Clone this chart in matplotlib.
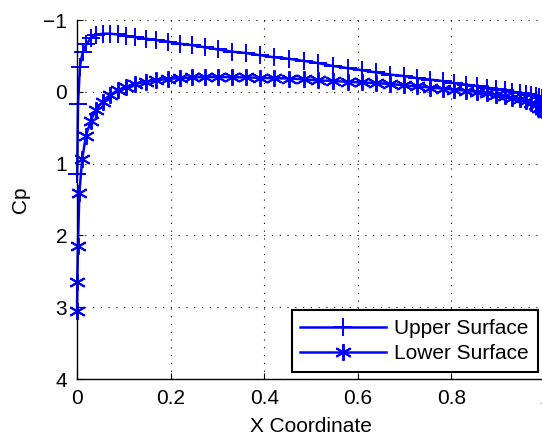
import numpy as np
import matplotlib
matplotlib.use("Agg")
import matplotlib.pyplot as plt

# Cp sobre el perfil
x_upper = [0.0003, 0.0022, 0.0062, 0.0120, 0.0199, 0.0296, 0.0411, 0.0545, 0.0696, 0.0865,
           0.1049, 0.1249, 0.1465, 0.1693, 0.1936, 0.2190, 0.2455, 0.2730, 0.3014, 0.3306,
           0.3605, 0.3909, 0.4218, 0.4529, 0.4843, 0.5157, 0.5471, 0.5782, 0.6091, 0.6395,
           0.6694, 0.6986, 0.7270, 0.7545, 0.7810, 0.8065, 0.8307, 0.8536, 0.8751, 0.8951,
           0.9135, 0.9304, 0.9455, 0.9589, 0.9704, 0.9802, 0.9880, 0.9938, 0.9978, 0.9998]
cp_upper = [1.15, 0.17, -0.35, -0.55, -0.66, -0.75, -0.79, -0.81, -0.81, -0.80,
            -0.78, -0.76, -0.74, -0.72, -0.70, -0.67, -0.65, -0.62, -0.59, -0.56,
            -0.54, -0.51, -0.48, -0.46, -0.43, -0.40, -0.36, -0.33, -0.30, -0.27,
            -0.24, -0.22, -0.19, -0.17, -0.15, -0.12, -0.10, -0.08, -0.06, -0.04,
            -0.02, 0.00, 0.01, 0.03, 0.04, 0.06, 0.07, 0.09, 0.11, 0.14]

x_lower = [0.0001, 0.0005, 0.0020, 0.0050, 0.0110, 0.0190, 0.0290, 0.0400, 0.0545, 0.0696,
           0.0865, 0.1049, 0.1249, 0.1465, 0.1693, 0.1936, 0.2190, 0.2455, 0.2730, 0.3014,
           0.3306, 0.3605, 0.3909, 0.4218, 0.4529, 0.4843, 0.5157, 0.5471, 0.5782, 0.6091,
           0.6395, 0.6694, 0.6986, 0.7270, 0.7545, 0.7810, 0.8065, 0.8307, 0.8536, 0.8751,
           0.8951, 0.9135, 0.9304, 0.9455, 0.9589, 0.9704, 0.9802, 0.9880, 0.9938, 0.9978,
           0.9998]
cp_lower = [3.05, 2.65, 2.15, 1.41, 0.94, 0.61, 0.41, 0.25, 0.14, 0.05,
            -0.02, -0.07, -0.11, -0.14, -0.16, -0.18, -0.19, -0.20, -0.205, -0.205,
            -0.205, -0.20, -0.195, -0.19, -0.185, -0.175, -0.16, -0.15, -0.14, -0.13,
            -0.12, -0.11, -0.09, -0.075, -0.06, -0.045, -0.03, -0.015, 0.00, 0.02,
            0.04, 0.06, 0.08, 0.10, 0.13, 0.16, 0.19, 0.22, 0.25, 0.28,
            0.30]

x_ticks = [0, 0.2, 0.4, 0.6, 0.8, 1]
y_ticks = [-1, 0, 1, 2, 3, 4]

plt.rcParams['font.family'] = ['Liberation Sans', 'DejaVu Sans']
plt.rcParams['font.size'] = 15

fig = plt.figure(figsize=(5.42, 4.37), dpi=100)
ax = fig.add_axes([0.1421, 0.1327, 0.8635, 0.8215])

ax.plot(x_upper, cp_upper, color=(0, 0, 1), lw=1.8, marker='+', ms=13, mew=1.4,
        label='Upper Surface', clip_on=False)
ax.plot(x_lower, cp_lower, color=(0, 0, 1), lw=1.8, marker=(6, 2, 0), ms=12, mew=1.4,
        label='Lower Surface', clip_on=False)

ax.set_xlim(0, 1)
ax.set_ylim(4, -1)
ax.set_xticks(x_ticks)
ax.set_xticklabels(['0', '0.2', '0.4', '0.6', '0.8', '1'])
ax.set_yticks(y_ticks)
ax.set_yticklabels(['\u22121', '0', '1', '2', '3', '4'])
ax.tick_params(direction='in', length=4, width=0.8, pad=7)
ax.grid(True, color='black', linestyle=(0, (1, 6)), linewidth=0.8)
for s in ['top', 'right']:
    ax.spines[s].set_visible(False)
for s in ['left', 'bottom']:
    ax.spines[s].set_linewidth(1.0)

ax.set_xlabel('X Coordinate', labelpad=7)
ax.set_ylabel('Cp', labelpad=10)

leg = ax.legend(loc='lower right', bbox_to_anchor=(0.984, 0.0195), handlelength=4.1,
                fancybox=False, framealpha=1, edgecolor='black', borderpad=0.42,
                labelspacing=0.3, handletextpad=0.4, borderaxespad=0)
leg.get_frame().set_linewidth(1.5)

plt.savefig('out.png', dpi=100)
